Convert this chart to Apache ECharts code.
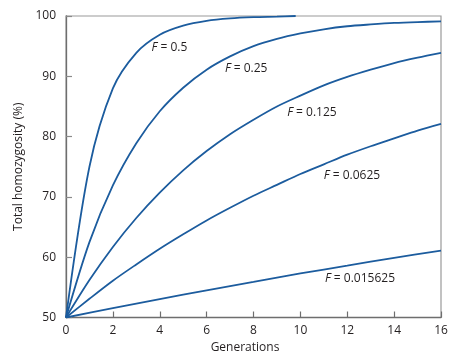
<!DOCTYPE html>
<html>
<head>
<meta charset="utf-8">
<script src="https://cdn.jsdelivr.net/npm/echarts@6/dist/echarts.min.js"></script>
<style>html,body{margin:0;padding:0;background:#fff}#c{width:472px;height:364px}</style>
</head>
<body>
<div id="c"></div>
<script>
// Data
const gens = [0,1,2,3,4,5,6,7,8,9,10,11,12,13,14,15,16];
const gensF05 = [0,1,2,3,4,5,6,7,8,9,9.8];
const homF05 = [50,75,88,93.9,96.9,98.4,99.2,99.6,99.8,99.9,100];
const homF025 = [50,62.5,71.9,78.9,84.2,88.1,91.1,93.3,95.0,96.2,97.1,97.8,98.3,98.6,98.85,99.0,99.1];
const homF0125 = [50,56.2,61.7,66.5,70.7,74.4,77.6,80.4,82.8,85.0,86.8,88.5,89.9,91.1,92.2,93.1,93.9];
const homF00625 = [50,53.1,56.1,58.8,61.4,63.8,66.1,68.2,70.2,72.0,73.8,75.4,77.0,78.4,79.7,81.0,82.1];
const gensF0156 = [0,2,4,6,8,10,12,14,16];
const homF0156 = [50,51.55,53.05,54.5,55.9,57.3,58.6,59.9,61.1];
const fLabels = ['0.5','0.25','0.125','0.0625','0.015625'];
const fLabelGen = [3.65,6.78,9.44,11.0,11.05];
const fLabelHom = [94.7,91.3,84.0,73.5,56.5];
const xTicks = [0,2,4,6,8,10,12,14,16];
const yTicks = [50,60,70,80,90,100];

const blue = '#1c5c9e';
const font = '"Open Sans", "Noto Sans", sans-serif';
function pairs(xs, ys){ return xs.map((x,i)=>[x, ys[i]]); }
const seriesData = [
  pairs(gensF05, homF05),
  pairs(gens, homF025),
  pairs(gens, homF0125),
  pairs(gens, homF00625),
  pairs(gensF0156, homF0156)
];
const series = seriesData.map((d, i) => ({
  type: 'line',
  data: d,
  smooth: 0.3,
  symbol: 'none',
  lineStyle: { color: blue, width: 1.8 },
  silent: true,
  markPoint: {
    symbol: 'circle',
    symbolSize: 0,
    silent: true,
    data: [{ coord: [fLabelGen[i], fLabelHom[i]] }],
    label: {
      show: true,
      position: 'right',
      distance: 0,
      formatter: '{it|F} = ' + fLabels[i],
      color: '#231f20',
      fontFamily: font,
      fontSize: 12,
      rich: { it: { fontStyle: 'italic', fontFamily: font, fontSize: 12, color: '#231f20' } }
    }
  }
}));

const chart = echarts.init(document.getElementById('c'), null, { renderer: 'canvas' });
chart.setOption({
  animation: false,
  backgroundColor: '#fff',
  grid: { left: 66, right: 31, top: 16, bottom: 46.5, show: true, borderColor: '#9a9a9a', borderWidth: 1.2, backgroundColor: 'transparent' },
  xAxis: {
    type: 'value', min: 0, max: 16, interval: 2,
    name: 'Generations', nameLocation: 'middle', nameGap: 22,
    nameTextStyle: { fontFamily: font, fontSize: 12, color: '#231f20', padding: [0, 17, 0, 0] },
    axisLine: { lineStyle: { color: '#6e6e6e', width: 1.3 } },
    axisTick: { inside: true, length: 6, lineStyle: { color: '#6e6e6e', width: 1.2 } },
    axisLabel: { margin: 7, fontFamily: font, fontSize: 12, color: '#231f20',
      formatter: v => xTicks.includes(v) ? String(v) : '' },
    splitLine: { show: false }
  },
  yAxis: {
    type: 'value', min: 50, max: 100, interval: 10,
    name: 'Total homozygosity (%)', nameLocation: 'middle', nameGap: 38,
    nameTextStyle: { fontFamily: font, fontSize: 12, color: '#231f20' },
    axisLine: { show: true, lineStyle: { color: '#6e6e6e', width: 1.3 } },
    axisTick: { show: true, inside: true, length: 6, lineStyle: { color: '#8a8a8a', width: 1.2 } },
    axisLabel: { margin: 10, fontFamily: font, fontSize: 12, color: '#231f20',
      formatter: v => yTicks.includes(v) ? String(v) : '' },
    splitLine: { show: false }
  },
  series: series
});
</script>
</body>
</html>
